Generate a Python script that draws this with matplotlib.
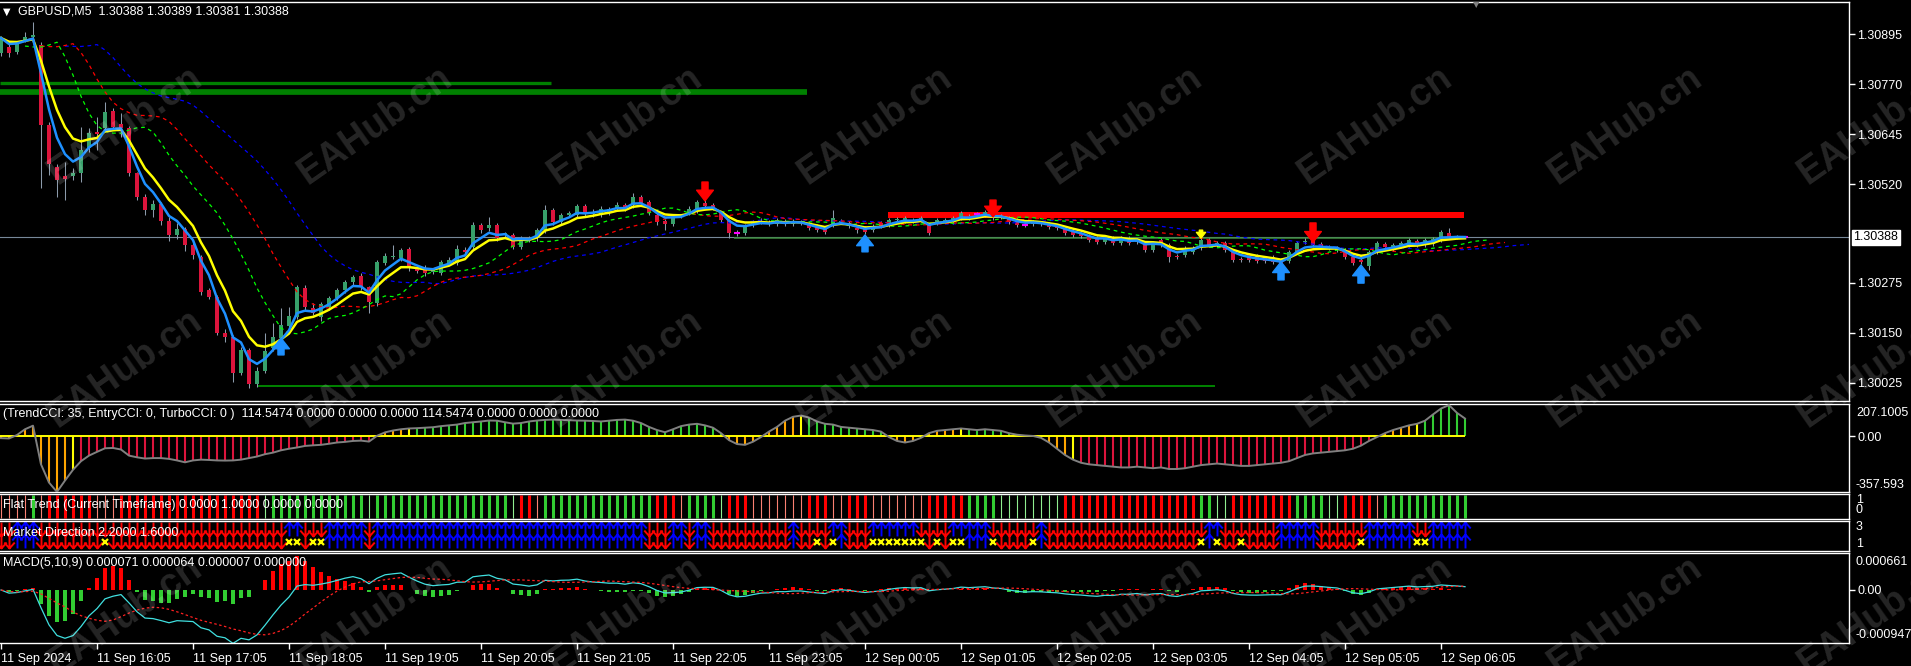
import numpy as np
import matplotlib
matplotlib.use("Agg")
import matplotlib.pyplot as plt
from matplotlib.path import Path

plt.rcParams['font.family'] = ['Liberation Sans', 'DejaVu Sans']

W, H = 1911, 666
RIGHT = 1849
XMIN, XMAX = -0.125, 231.0

# GBPUSD M5 candles, in points above 1.30000
open_pts = [848, 862, 850, 880, 888, 868, 668, 563, 541, 541,
            549, 611, 651, 661, 703, 670, 661, 549, 489, 456,
            470, 430, 395, 410, 370, 339, 257, 240, 150, 140,
            50, 107, 22, 55, 112, 137, 167, 189, 262, 212,
            190, 214, 237, 257, 277, 292, 264, 224, 324, 340,
            337, 359, 314, 312, 302, 299, 324, 324, 357, 364,
            419, 411, 419, 394, 394, 364, 386, 386, 406, 456,
            426, 444, 444, 466, 446, 446, 449, 459, 469, 469,
            489, 476, 444, 429, 421, 441, 449, 456, 474, 469,
            449, 431, 399, 399, 419, 426, 426, 421, 429, 421,
            426, 421, 416, 411, 419, 426, 424, 411, 411, 406,
            424, 419, 431, 429, 431, 431, 419, 424, 429, 426,
            436, 441, 446, 444, 446, 441, 436, 431, 419, 421,
            424, 421, 416, 411, 404, 396, 391, 386, 376, 386,
            374, 386, 376, 371, 357, 381, 369, 342, 344, 352,
            361, 381, 369, 374, 352, 335, 345, 342, 337, 340,
            332, 330, 352, 376, 381, 371, 364, 357, 357, 339,
            332, 317, 352, 371, 359, 366, 369, 379, 369, 371,
            381, 399, 389, 389]
high_pts = [890, 870, 878, 900, 925, 875, 675, 570, 575, 560,
            663, 660, 688, 726, 710, 698, 665, 552, 495, 480,
            475, 440, 425, 415, 378, 345, 262, 245, 160, 145,
            115, 112, 65, 150, 175, 212, 214, 270, 270, 225,
            228, 242, 262, 282, 295, 298, 268, 332, 348, 369,
            362, 364, 320, 318, 312, 332, 338, 369, 364, 426,
            425, 439, 424, 402, 398, 392, 392, 412, 469, 462,
            450, 455, 472, 471, 458, 465, 464, 475, 474, 499,
            494, 481, 449, 434, 445, 446, 465, 482, 486, 474,
            454, 434, 406, 421, 431, 436, 431, 436, 434, 434,
            431, 426, 421, 416, 456, 434, 429, 416, 416, 421,
            429, 436, 439, 441, 436, 441, 424, 436, 436, 441,
            454, 446, 451, 456, 456, 446, 441, 436, 424, 431,
            429, 426, 421, 414, 409, 401, 396, 391, 391, 391,
            391, 391, 386, 376, 379, 386, 374, 347, 366, 366,
            386, 386, 379, 379, 357, 340, 350, 347, 342, 345,
            337, 357, 379, 386, 389, 376, 369, 366, 362, 344,
            337, 357, 379, 376, 374, 379, 386, 384, 386, 389,
            406, 411, 394, 391]
low_pts = [840, 838, 845, 875, 880, 511, 544, 488, 481, 530,
           526, 600, 606, 650, 655, 638, 540, 480, 445, 440,
           420, 380, 385, 355, 335, 245, 235, 145, 127, 27,
           45, 12, 15, 50, 105, 130, 160, 185, 205, 195,
           180, 208, 232, 250, 270, 258, 200, 218, 318, 335,
           330, 305, 298, 292, 296, 294, 318, 318, 345, 358,
           400, 405, 380, 388, 358, 358, 376, 380, 400, 420,
           420, 438, 438, 440, 440, 440, 444, 454, 455, 462,
           468, 443, 420, 406, 416, 436, 444, 450, 461, 456,
           426, 386, 391, 394, 414, 421, 416, 416, 416, 416,
           419, 406, 401, 396, 414, 421, 411, 399, 396, 401,
           411, 414, 426, 424, 424, 426, 394, 419, 424, 421,
           431, 431, 441, 439, 431, 434, 421, 414, 414, 416,
           416, 409, 406, 394, 389, 386, 376, 371, 371, 369,
           369, 369, 371, 352, 352, 364, 327, 335, 339, 347,
           356, 364, 364, 352, 327, 327, 327, 325, 325, 322,
           312, 325, 347, 371, 364, 359, 356, 352, 334, 319,
           322, 307, 347, 359, 354, 361, 364, 364, 364, 366,
           376, 384, 384, 386]
close_pts = [885, 848, 873, 887, 893, 668, 571, 531, 534, 549,
             606, 648, 646, 701, 663, 661, 549, 489, 456, 470,
             430, 395, 410, 370, 345, 252, 240, 150, 140, 50,
             107, 22, 55, 105, 140, 170, 192, 264, 214, 200,
             222, 237, 257, 277, 289, 264, 227, 327, 342, 342,
             357, 314, 305, 299, 306, 327, 332, 359, 352, 419,
             406, 419, 386, 399, 364, 386, 381, 406, 456, 426,
             444, 449, 466, 446, 452, 459, 459, 469, 461, 489,
             474, 449, 426, 421, 439, 441, 459, 476, 466, 464,
             431, 399, 399, 414, 426, 429, 421, 431, 421, 429,
             424, 411, 406, 401, 436, 429, 416, 406, 401, 416,
             416, 431, 434, 436, 429, 436, 399, 431, 431, 436,
             449, 436, 446, 451, 436, 439, 426, 419, 419, 426,
             421, 414, 411, 399, 394, 391, 381, 376, 386, 374,
             386, 374, 381, 357, 374, 369, 339, 339, 361, 361,
             381, 369, 374, 357, 332, 332, 332, 330, 330, 327,
             322, 352, 374, 379, 369, 364, 361, 361, 339, 324,
             327, 352, 374, 364, 369, 374, 381, 369, 381, 384,
             401, 389, 391, 388]
doji_bars = [85, 92, 122, 128, 183]

# signal arrows on the price chart
arrow_bar = [35, 88, 108, 124, 150, 160, 164, 170]
arrow_tip = [137, 479, 394, 439, 386, 327, 376, 319]
arrow_tail = [95, 526, 352, 481, 406, 282, 424, 274]
arrow_kind = ['up', 'down', 'up', 'down', 'small', 'up', 'down', 'up']

# horizontal level lines
level_pts = [773, 750, 18, 444, 386]
level_from = [-0.125, -0.125, 32, 110.9, 91.6]
level_to = [68.75, 100.75, 151.75, 182.9, 183]

price_ticks = [1.30895, 1.30770, 1.30645, 1.30520, 1.30275, 1.30150, 1.30025]
last_price = 1.30388

# TrendCCI values per bar
cci = [-12, -14, 8, 45, 68, -180, -297, -357, -284, -215,
       -160, -124, -100, -77, -75, -85, -124, -135, -143, -140,
       -140, -145, -155, -167, -155, -150, -152, -155, -156, -155,
       -150, -140, -130, -115, -105, -90, -80, -72, -62, -58,
       -55, -48, -40, -36, -30, -28, -34, 3, 25, 37,
       45, 50, 52, 55, 58, 65, 70, 75, 85, 90,
       95, 101, 100, 90, 81, 85, 95, 101, 105, 107,
       105, 103, 101, 100, 98, 95, 100, 105, 107, 100,
       85, 60, 40, 26, 45, 65, 75, 80, 70, 55,
       20, -25, -50, -55, -35, -5, 30, 60, 100, 125,
       133, 120, 95, 80, 75, 60, 55, 50, 45, 40,
       30, -5, -30, -40, -30, -10, 20, 35, 40, 45,
       50, 45, 40, 45, 40, 35, 20, 10, 5, 2,
       -10, -40, -80, -120, -150, -170, -180, -185, -190, -195,
       -200, -200, -195, -200, -205, -200, -210, -210, -205, -195,
       -185, -180, -175, -180, -185, -190, -190, -185, -180, -175,
       -170, -160, -140, -120, -110, -105, -100, -95, -90, -80,
       -60, -30, -5, 20, 40, 55, 70, 80, 100, 140,
       178, 200, 150, 114]

# Flat Trend: G/R thick trend bars, g/r thin flat bars
flat_runs = [('r', 4), ('G', 1), ('r', 1), ('R', 6), ('r', 3), ('R', 18), ('g', 1),
             ('G', 12), ('g', 1), ('G', 17), ('g', 1), ('R', 2), ('r', 1), ('G', 14),
             ('R', 3), ('r', 1), ('G', 4), ('g', 1), ('R', 3), ('r', 7), ('R', 3),
             ('r', 2), ('R', 3), ('r', 7), ('R', 5), ('G', 4), ('g', 8), ('R', 17),
             ('G', 2), ('g', 2), ('R', 8), ('G', 4), ('g', 2), ('R', 4), ('r', 1), ('G', 11)]

# Market Direction: U up / D down, and bars with a yellow cross
dir_runs = [('D', 2), ('U', 3), ('D', 31), ('U', 2), ('D', 3), ('U', 5), ('D', 1),
            ('U', 34), ('D', 3), ('U', 2), ('D', 1), ('U', 2), ('D', 10), ('U', 1),
            ('D', 4), ('U', 2), ('D', 3), ('U', 6), ('D', 4), ('U', 5), ('D', 6),
            ('U', 1), ('D', 20), ('U', 2), ('D', 7), ('U', 5), ('D', 6), ('U', 6),
            ('D', 2), ('U', 5)]
cross_bars = [13, 36, 37, 39, 40, 102, 104, 109, 110, 111, 112, 113, 114, 115,
              117, 119, 120, 124, 129, 150, 152, 155, 170, 177, 178]

time_labels = ['11 Sep 2024', '11 Sep 16:05', '11 Sep 17:05', '11 Sep 18:05',
               '11 Sep 19:05', '11 Sep 20:05', '11 Sep 21:05', '11 Sep 22:05',
               '11 Sep 23:05', '12 Sep 00:05', '12 Sep 01:05', '12 Sep 02:05',
               '12 Sep 03:05', '12 Sep 04:05', '12 Sep 05:05', '12 Sep 06:05']

o = 1.3 + np.array(open_pts) / 1e5
h = 1.3 + np.array(high_pts) / 1e5
l = 1.3 + np.array(low_pts) / 1e5
c = 1.3 + np.array(close_pts) / 1e5
n = len(c)
x = np.arange(n)


def ema(v, p):
    a = 2.0 / (p + 1)
    out = np.empty(len(v))
    out[0] = v[0]
    for i in range(1, len(v)):
        out[i] = out[i - 1] + a * (v[i] - out[i - 1])
    return out


def smma(v, p):
    out = np.empty(len(v))
    out[0] = v[0]
    for i in range(1, len(v)):
        out[i] = (out[i - 1] * (p - 1) + v[i]) / p
    return out


fig = plt.figure(figsize=(W / 100, H / 100), dpi=100, facecolor='black')


def panel(top, bottom):
    ax = fig.add_axes([0, 1 - bottom / H, RIGHT / W, (bottom - top) / H])
    ax.set_facecolor('black')
    for sp in ax.spines.values():
        sp.set_color('white')
        sp.set_linewidth(1)
    ax.spines['left'].set_visible(False)
    ax.set_xlim(XMIN, XMAX)
    ax.set_xticks([])
    ax.yaxis.tick_right()
    ax.tick_params(axis='y', colors='white', length=4, width=1, pad=2, labelsize=9)
    return ax


def rtext(ypx, s):
    fig.text(1856 / W, 1 - ypx / H, s, color='white', fontsize=9, va='center')


# ---------------- main price chart ----------------
ax = panel(2, 401)
ax.set_ylim(1.299801, 1.309748)
ax.set_yticks(price_ticks)
ax.set_yticklabels([f'{v:.5f}' for v in price_ticks])

ax.axhline(last_price, color='#778899', lw=0.8, zorder=1)
lw_px = [3.3, 5.7, 2.0, 6.0, 1.5]
lcol = ['#008000', '#008000', '#008000', '#ff0000', '#3c8c3c']
for p, a, b, w, col in zip(level_pts, level_from, level_to, lw_px, lcol):
    ax.hlines(1.3 + p / 1e5, a, b, color=col, lw=w * 0.72, zorder=2)

ax.vlines(x, l, h, color='#8c9aab', lw=0.75, zorder=3)
bull = c >= o
body_lo = np.minimum(o, c)
body_h = np.maximum(np.abs(c - o), 0.000015)
ax.bar(x, body_h, bottom=body_lo, width=0.62,
       color=np.where(bull, '#37a06a', '#dc143c'), linewidth=0, zorder=4)
ax.hlines(c[doji_bars], np.array(doji_bars) - 0.35, np.array(doji_bars) + 0.35,
          color='magenta', lw=1.5, zorder=5)

med = (h + l) / 2
jaw, teeth, lips = smma(med, 13), smma(med, 8), smma(med, 5)
ax.plot(x + 8, jaw, color='#0000ff', lw=0.9, ls=(0, (3, 3)), zorder=5)
ax.plot(x + 5, teeth, color='#ff0000', lw=0.9, ls=(0, (3, 3)), zorder=5)
ax.plot(x + 3, lips, color='#00ff00', lw=0.9, ls=(0, (3, 3)), zorder=5)
ax.plot(x, ema(c, 7), color='yellow', lw=1.8, zorder=6)
ax.plot(x, ema(c, 4), color='#1e90ff', lw=1.8, zorder=7)

for b, tip, tail, kind in zip(arrow_bar, arrow_tip, arrow_tail, arrow_kind):
    col = {'up': '#1e90ff', 'down': '#ff0000', 'small': 'yellow'}[kind]
    ms = 6 if kind == 'small' else 11
    ax.annotate('', xy=(b, 1.3 + tip / 1e5), xytext=(b, 1.3 + tail / 1e5),
                arrowprops=dict(arrowstyle='simple,head_length=0.7,head_width=1.1,tail_width=0.4',
                                color=col, shrinkA=0, shrinkB=0, mutation_scale=ms), zorder=8)

ax.annotate(f'{last_price:.5f}', xy=(1, last_price), xycoords=('axes fraction', 'data'),
            xytext=(3, 0), textcoords='offset points', va='center', ha='left',
            color='black', fontsize=9, annotation_clip=False,
            bbox=dict(boxstyle='square,pad=0.12', fc='white', ec='white'))

fig.text(3 / W, 1 - 12 / H, '\u25bc', color='white', fontsize=7, va='center',
         family='DejaVu Sans')
fig.text(18 / W, 1 - 12 / H, 'GBPUSD,M5  1.30388 1.30389 1.30381 1.30388',
         color='white', fontsize=9, va='center')
fig.text(1473 / W, 1 - 5 / H, '\u25bc', color='#808080', fontsize=6, va='center',
         family='DejaVu Sans')

# ---------------- TrendCCI ----------------
ax2 = panel(404, 492)
ax2.set_ylim(-357.593, 207.1005)
cci_v = np.array(cci, dtype=float)
cols = []
run = 0
for i, v in enumerate(cci_v):
    if i > 0 and np.sign(v) == np.sign(cci_v[i - 1]):
        run += 1
    else:
        run = 1
    if run >= 6:
        cols.append('#32cd32' if v > 0 else '#dc143c')
    elif run == 5:
        cols.append('#ffff00')
    else:
        cols.append('#ffa500')
ax2.vlines(x, 0, cci_v, colors=cols, lw=1.5, zorder=2)
ax2.hlines(0, XMIN, n - 1, color='yellow', lw=1.4, zorder=3)
ax2.plot(x, cci_v, color='#808080', lw=1.4, zorder=4)
ax2.set_yticks([0])
ax2.set_yticklabels(['0.00'])
rtext(413, '207.1005')
rtext(485, '-357.593')
fig.text(3 / W, 1 - 414 / H,
         '(TrendCCI: 35, EntryCCI: 0, TurboCCI: 0 )  114.5474 0.0000 0.0000 0.0000 '
         '114.5474 0.0000 0.0000 0.0000', color='white', fontsize=9, va='center')

# ---------------- Flat Trend ----------------
ax3 = panel(494, 519)
ax3.set_ylim(0, 1)
ax3.set_yticks([])
flat = ''.join(k * m for k, m in flat_runs)
fstyle = {'G': ('#32cd32', 2.2), 'R': ('#ff0000', 2.2), 'g': ('#90ee90', 0.8), 'r': ('#fa8072', 0.8)}
for k, (col, w) in fstyle.items():
    idx = [i for i, ch in enumerate(flat) if ch == k]
    ax3.vlines(idx, 0.05, 0.95, color=col, lw=w)
rtext(500, '1')
rtext(510, '0')
fig.text(3 / W, 1 - 505 / H, 'Flat Trend (Current Timeframe) 0.0000 1.0000 0.0000 0.0000',
         color='white', fontsize=9, va='center')

# ---------------- Market Direction ----------------
ax4 = panel(521, 551)
ax4.set_ylim(0.18, 3.7)
ax4.set_yticks([])
dirs = ''.join(k * m for k, m in dir_runs)
down_path = Path([(0, 1), (0, -1), (-0.75, -0.15), (0, -1), (0.75, -0.15)],
                 [Path.MOVETO, Path.LINETO, Path.MOVETO, Path.LINETO, Path.LINETO])
up_path = Path([(0, -1), (0, 1), (-0.75, 0.15), (0, 1), (0.75, 0.15)],
               [Path.MOVETO, Path.LINETO, Path.MOVETO, Path.LINETO, Path.LINETO])
for lvl, skip in ((2.75, False), (1.35, True)):
    for k, path, col in (('D', down_path, '#ff0000'), ('U', up_path, '#0000ff')):
        idx = [i for i, ch in enumerate(dirs) if ch == k and not (skip and i in cross_bars)]
        ax4.plot(idx, [lvl] * len(idx), ls='none', marker=path, ms=10, mec=col,
                 mfc='none', mew=1.4)
ax4.plot(cross_bars, [1.25] * len(cross_bars), ls='none', marker='x', ms=4.5,
         mec='yellow', mew=1.6)
rtext(527, '3')
rtext(544, '1')
fig.text(3 / W, 1 - 533 / H, 'Market Direction 2.2000 1.6000',
         color='white', fontsize=9, va='center')

# ---------------- MACD ----------------
ax5 = panel(553, 643)
ax5.set_ylim(-0.000947, 0.000661)
main = ema(c, 5) - ema(c, 10)
signal = np.convolve(main, np.ones(9) / 9, mode='full')[:n]
signal[:8] = [main[:i + 1].mean() for i in range(8)]
hist = main - signal
ax5.bar(x, hist, width=0.62, color=np.where(hist >= 0, '#ff0000', '#32cd32'), linewidth=0)
ax5.plot(x, main, color='#40e0e0', lw=0.9)
ax5.plot(x, signal, color='#ff2020', lw=0.9, ls=(0, (2, 2)))
ax5.set_yticks([0])
ax5.set_yticklabels(['0.00'])
rtext(562, '0.000661')
rtext(635, '-0.000947')
fig.text(3 / W, 1 - 563 / H, 'MACD(5,10,9) 0.000071 0.000064 0.000007 0.000000',
         color='white', fontsize=9, va='center')

ax5.set_xticks(np.arange(len(time_labels)) * 12)
ax5.set_xticklabels(time_labels, ha='left')
ax5.tick_params(axis='x', colors='white', length=4, width=1, pad=3, labelsize=9)

# watermark
for wy in (125, 368, 615):
    for wx in range(125, 1911, 250):
        fig.text(wx / W, 1 - wy / H, 'EAHub.cn', rotation=35, ha='center', va='center',
                 rotation_mode='anchor', fontsize=27, fontweight='bold',
                 color='white', alpha=0.15)

fig.savefig('out.png', dpi=100, facecolor='black')
